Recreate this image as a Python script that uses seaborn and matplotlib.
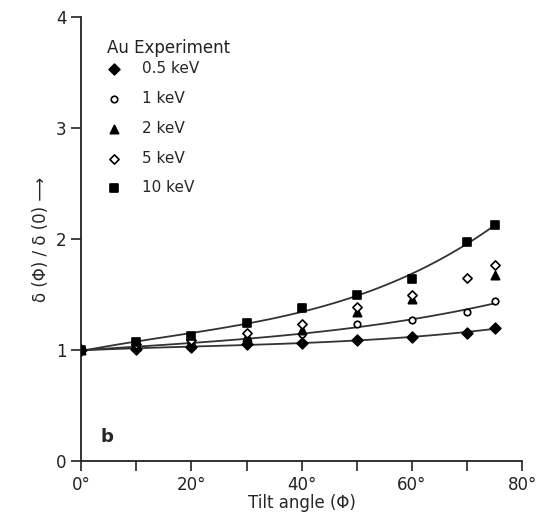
import numpy as np
import pandas as pd
import seaborn as sns
from matplotlib import pyplot as plt
from matplotlib.ticker import MultipleLocator

angles = [0, 10, 20, 30, 40, 50, 60, 70, 75]

kev05 = [1.00, 1.01, 1.03, 1.05, 1.06, 1.09, 1.12, 1.15, 1.20]
kev1 = [1.00, 1.03, 1.06, 1.10, 1.14, 1.23, 1.27, 1.34, 1.44]
kev2 = [1.00, 1.04, 1.07, 1.12, 1.18, 1.34, 1.46, np.nan, 1.68]
kev5 = [1.00, 1.05, 1.09, 1.15, 1.23, 1.39, 1.50, 1.65, 1.77]
kev10 = [1.00, 1.07, 1.13, 1.24, 1.38, 1.50, 1.64, 1.97, 2.13]

labels = ["0.5 keV", "1 keV", "2 keV", "5 keV", "10 keV"]
series = [kev05, kev1, kev2, kev5, kev10]
fitted = ["0.5 keV", "1 keV", "10 keV"]

rows = []
for lab, vals in zip(labels, series):
    for a, v in zip(angles, vals):
        rows.append({"angle": a, "ratio": v, "energy": lab})
df = pd.DataFrame(rows).dropna()

sns.set_style("ticks")
plt.rcParams['font.family'] = ['DejaVu Sans']

fig = plt.figure(figsize=(5.48, 5.22), dpi=100)
ax = fig.add_axes([0.148, 0.117, 0.805, 0.85])

# fitted curves
for lab in fitted:
    sub = df[df.energy == lab]
    sns.regplot(data=sub, x="angle", y="ratio", order=3, ci=None, scatter=False,
                truncate=True, ax=ax, line_kws={"color": "#333333", "lw": 1.3})

styles = {
    "0.5 keV": dict(marker="D", facecolor="black", s=30),
    "1 keV": dict(marker="o", facecolor="white", s=22),
    "2 keV": dict(marker="^", facecolor="black", s=36),
    "5 keV": dict(marker="D", facecolor="white", s=22),
    "10 keV": dict(marker="s", facecolor="black", s=30),
}
for lab in labels:
    sub = df[df.energy == lab]
    st = styles[lab]
    sns.scatterplot(data=sub, x="angle", y="ratio", marker=st["marker"], s=st["s"],
                    color=st["facecolor"], edgecolor="black", linewidth=1.2,
                    label=lab, ax=ax, zorder=5)

ax.set_xlim(0, 80)
ax.set_ylim(0, 4)
ax.xaxis.set_major_locator(MultipleLocator(20))
ax.xaxis.set_minor_locator(MultipleLocator(10))
ax.yaxis.set_major_locator(MultipleLocator(1))
ax.set_xticklabels([f"{int(t)}°" for t in ax.get_xticks()])
ax.tick_params(axis="both", which="major", length=7, width=1.2, labelsize=12, colors="#222222")
ax.tick_params(axis="x", which="minor", length=7, width=1.2)
sns.despine(ax=ax)
for sp in ["left", "bottom"]:
    ax.spines[sp].set_linewidth(1.3)
    ax.spines[sp].set_color("#222222")

ax.set_xlabel("Tilt angle (Φ)", fontsize=12, labelpad=0)
ax.set_ylabel("δ (Φ) / δ (0) ⟶", fontsize=12, labelpad=4)

ax.text(3.5, 0.17, "b", fontsize=13, fontweight="bold")
ax.text(0.058, 0.93, "Au Experiment", transform=ax.transAxes, fontsize=12,
        va="center", ha="left", color="#222222")

leg = ax.legend(loc="upper left", bbox_to_anchor=(0.016, 0.925),
                frameon=False, fontsize=11, labelspacing=0.97,
                handletextpad=0.8, borderaxespad=0.3)

fig.savefig("out.png", dpi=100)
